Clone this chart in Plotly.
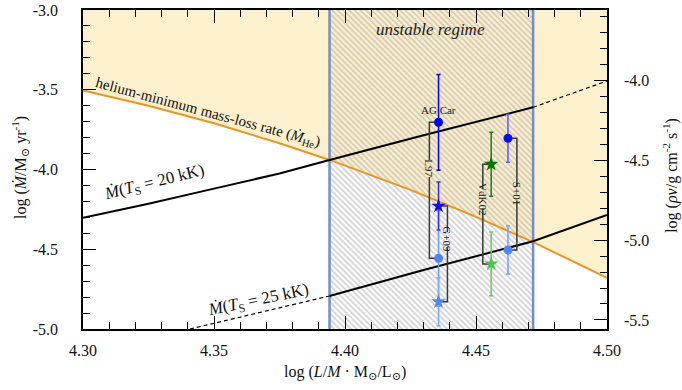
import plotly.graph_objects as go

# ---------------- data ----------------
# helium-minimum mass-loss rate (orange curve)
he_x = [4.30, 4.325, 4.35, 4.375, 4.3941, 4.425, 4.45, 4.4718, 4.50]
he_y = [-3.505, -3.600, -3.710, -3.835, -3.94, -4.128, -4.297, -4.455, -4.68]

# Mdot(Ts = 20 kK)
t20_x = [4.30, 4.325, 4.35, 4.375, 4.3941, 4.43, 4.4718, 4.485, 4.50]
t20_y = [-4.302, -4.215, -4.12, -4.025, -3.94, -3.785, -3.61, -3.535, -3.445]

# Mdot(Ts = 25 kK)
t25_x = [4.3408, 4.35, 4.375, 4.3941, 4.43, 4.4718, 4.485, 4.50]
t25_y = [-5.0, -4.965, -4.87, -4.793, -4.63, -4.45, -4.375, -4.285]

# unstable regime boundaries
unstable_lo = 4.3941
unstable_hi = 4.4718

# observations: (upper value, lower value) per source
src_names = ["L97", "G+09", "VdK02", "S+01"]
src_x = [4.4357, 4.4357, 4.4558, 4.4622]
src_upper = [-3.704, -4.229, -3.967, -3.804]
src_lower = [-4.557, -4.829, -4.592, -4.505]
src_err = [0.30, 0.15, 0.20, 0.15]
src_symbol = ["circle", "star", "star", "circle"]

x_ticks = [4.30, 4.35, 4.40, 4.45, 4.50]
x_ticktext = ["4.30", "4.35", "4.40", "4.45", "4.50"]
y_ticks = [-3.0, -3.5, -4.0, -4.5, -5.0]
y_ticktext = ["-3.0", "-3.5", "-4.0", "-4.5", "-5.0"]
y2_ticks = [-4.0, -4.5, -5.0, -5.5]
y2_ticktext = ["-4.0", "-4.5", "-5.0", "-5.5"]

# ---------------- styles ----------------
FONT = "'Liberation Serif', 'Times New Roman', 'DejaVu Serif', serif"
ORANGE = "#e8961e"
BEIGE = "#fdf0cc"
VLINE = "#6f8fc6"
dark_col = ["#0000ff", "#0a0aff", "#007a00", "#0a0aff"]
dark_bar = ["#0000ff", "#3030ff", "#1a801a", "#5a5aff"]
light_col = ["#4f86f7", "#4f86f7", "#48c848", "#4f86f7"]
light_bar = ["#6b9cff", "#7aa6ff", "#66cc66", "#6f9fff"]
msize = {"circle": 9, "star": 11}
bracket_dx = [-0.0035, 0.0034, -0.0032, 0.0034]
label_y = [-3.995, -4.440, -4.184, -4.152]
label_gap = [0.105, 0.095, 0.12, 0.085]

fig = go.Figure()

# beige region above helium-minimum line
fig.add_trace(go.Scatter(
    x=he_x + [4.50, 4.30], y=he_y + [-3.0, -3.0], fill="toself",
    fillcolor=BEIGE, line=dict(width=0), mode="lines", hoverinfo="skip",
    showlegend=False))

# hatched unstable band
fig.add_trace(go.Scatter(
    x=[unstable_lo, unstable_hi, unstable_hi, unstable_lo, unstable_lo],
    y=[-5.0, -5.0, -3.0, -3.0, -5.0], fill="toself",
    fillcolor="rgba(0,0,0,0)",
    fillpattern=dict(shape="\\", fgcolor="#a4a4a4", bgcolor="rgba(0,0,0,0)",
                     size=4, solidity=0.45),
    line=dict(width=0), mode="lines", hoverinfo="skip", showlegend=False))

# band boundaries
for xv in (unstable_lo, unstable_hi):
    fig.add_trace(go.Scatter(x=[xv, xv], y=[-5.0, -3.0], mode="lines",
                             line=dict(color=VLINE, width=2.5),
                             showlegend=False, hoverinfo="skip"))

# orange helium line
fig.add_trace(go.Scatter(x=he_x, y=he_y, mode="lines",
                         line=dict(color=ORANGE, width=2), showlegend=False))

# 20 kK: solid up to upper boundary, dashed beyond
i20 = t20_x.index(unstable_hi)
fig.add_trace(go.Scatter(x=t20_x[:i20 + 1], y=t20_y[:i20 + 1], mode="lines",
                         line=dict(color="black", width=2), showlegend=False))
fig.add_trace(go.Scatter(x=t20_x[i20:], y=t20_y[i20:], mode="lines",
                         line=dict(color="black", width=1.2, dash="4px,3px"),
                         showlegend=False))
# 25 kK: dashed up to lower boundary, solid beyond
i25 = t25_x.index(unstable_lo)
fig.add_trace(go.Scatter(x=t25_x[:i25 + 1], y=t25_y[:i25 + 1], mode="lines",
                         line=dict(color="black", width=1.2, dash="4px,3px"),
                         showlegend=False))
fig.add_trace(go.Scatter(x=t25_x[i25:], y=t25_y[i25:], mode="lines",
                         line=dict(color="black", width=2), showlegend=False))

C = dict(xanchor="center", yanchor="middle", showarrow=False)
annotations = []
# brackets + labels
for k in range(len(src_names)):
    xm = src_x[k]
    xb = xm + bracket_dx[k]
    yt, yb = src_upper[k], src_lower[k]
    g1 = label_y[k] + label_gap[k] / 2
    g2 = label_y[k] - label_gap[k] / 2
    fig.add_trace(go.Scatter(
        x=[xm, xb, xb, None, xb, xb, xm],
        y=[yt, yt, g1, None, g2, yb, yb], mode="lines",
        line=dict(color="#3a3a3a", width=1.5), showlegend=False,
        hoverinfo="skip"))
    annotations.append(dict(x=xb, y=label_y[k], text=src_names[k],
                            textangle=90, **C,
                            font=dict(family=FONT, size=11, color="#222")))

# observed points
for k in range(len(src_names)):
    for yv, mc, bc in ((src_lower[k], light_col[k], light_bar[k]),
                       (src_upper[k], dark_col[k], dark_bar[k])):
        fig.add_trace(go.Scatter(
            x=[src_x[k]], y=[yv], mode="markers",
            marker=dict(symbol=src_symbol[k], size=msize[src_symbol[k]],
                        color=mc, line=dict(width=0)),
            error_y=dict(type="data", array=[src_err[k]], color=bc,
                         thickness=1.5, width=2),
            showlegend=False))

# invisible trace for right axis
fig.add_trace(go.Scatter(x=[4.30], y=[-4.0], yaxis="y2", mode="markers",
                         marker=dict(opacity=0), showlegend=False,
                         hoverinfo="skip"))

# text labels
annotations += [
    dict(x=4.3477, y=-3.644, text="helium-minimum mass-loss rate (<i>Ṁ</i><sub>He</sub>)",
         textangle=15, **C, font=dict(family=FONT, size=15, color="#111")),
    dict(x=4.3274, y=-4.083, text="<i>Ṁ</i>(<i>T</i><sub>S</sub> = 20 kK)",
         textangle=-14, **C, font=dict(family=FONT, size=17, color="#111")),
    dict(x=4.3668, y=-4.822, text="<i>Ṁ</i>(<i>T</i><sub>S</sub> = 25 kK)",
         textangle=-12, **C, font=dict(family=FONT, size=17, color="#111")),
    dict(x=4.4328, y=-3.124, text="<i>unstable regime</i>", **C,
         font=dict(family=FONT, size=17, color="#222")),
    dict(x=4.4358, y=-3.63, text="AG Car", **C,
         font=dict(family=FONT, size=11, color="#222")),
    # axis titles
    dict(xref="paper", yref="paper", x=-0.12, y=0.505,
         text="log (<i>Ṁ</i>/M<sub>⊙</sub> yr<sup>-1</sup>)", textangle=-90,
         **C, font=dict(family=FONT, size=16, color="#111")),
    dict(xref="paper", yref="paper", x=1.122, y=0.483,
         text="log (<i>ρv</i>/g cm<sup>-2</sup> s<sup>-1</sup>)", textangle=-90,
         **C, font=dict(family=FONT, size=16, color="#111")),
    dict(xref="paper", yref="paper", x=0.5, y=-0.135,
         text="log (<i>L</i>/<i>M</i> · M<sub>⊙</sub>/L<sub>⊙</sub>)",
         **C, font=dict(family=FONT, size=16, color="#111")),
]

axis_common = dict(showgrid=False, zeroline=False, showline=True,
                   linecolor="black", linewidth=1.5, ticks="inside",
                   ticklen=13, tickwidth=1.3, tickcolor="black",
                   automargin=False,
                   tickfont=dict(family=FONT, size=16, color="#111"))

fig.update_layout(
    width=682, height=390,
    margin=dict(l=83, r=75, t=10, b=61),
    paper_bgcolor="white", plot_bgcolor="white",
    showlegend=False,
    font=dict(family=FONT),
    annotations=annotations,
    xaxis=dict(range=[4.30, 4.50], tickmode="array", tickvals=x_ticks,
               ticktext=x_ticktext, mirror="ticks", ticklabelstandoff=6,
               minor=dict(ticks="inside", ticklen=7, tickwidth=1.3,
                          tickcolor="black", tickmode="linear", tick0=4.30,
                          dtick=0.01),
               **axis_common),
    yaxis=dict(range=[-5.0, -3.0], tickmode="array", tickvals=y_ticks,
               ticktext=y_ticktext, ticklabelstandoff=20,
               minor=dict(ticks="inside", ticklen=7, tickwidth=1.3,
                          tickcolor="black", tickmode="linear", tick0=-3.0,
                          dtick=0.1),
               **axis_common),
    yaxis2=dict(range=[-5.557, -3.557], overlaying="y", side="right",
                tickmode="array", tickvals=y2_ticks, ticktext=y2_ticktext,
                ticklabelstandoff=12,
                minor=dict(ticks="inside", ticklen=7, tickwidth=1.3,
                           tickcolor="black", tickmode="linear", tick0=-4.0,
                           dtick=0.1),
                **axis_common),
)

fig.write_html("out.html")
